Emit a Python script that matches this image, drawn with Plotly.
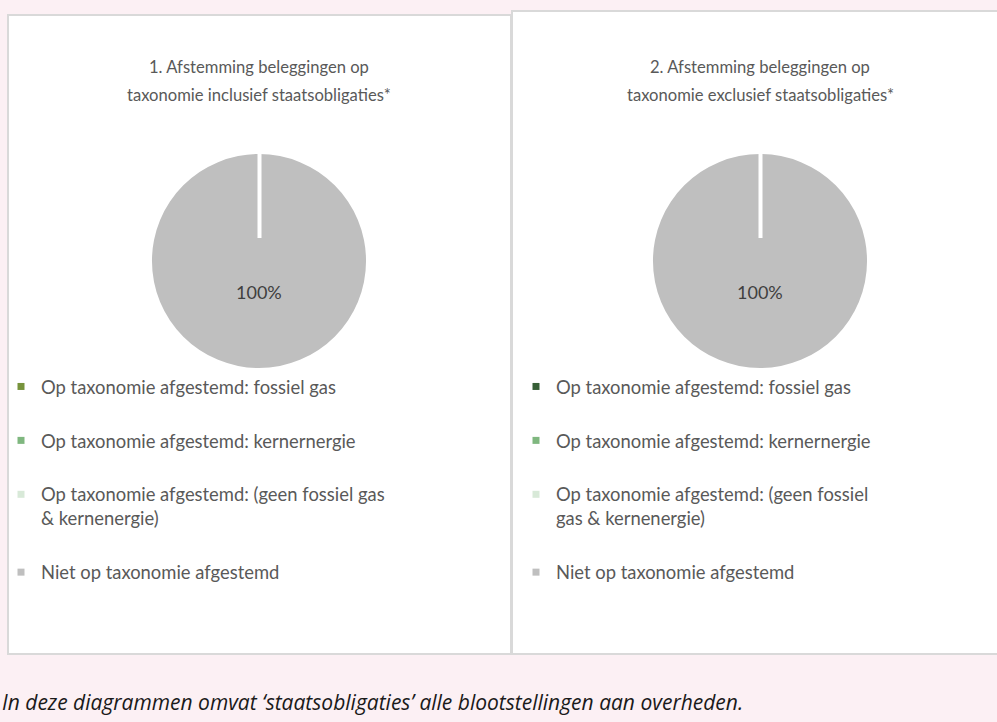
import plotly.graph_objects as go

W, H = 997, 722

# ---- data ----
labels = [
    "Op taxonomie afgestemd: fossiel gas",
    "Op taxonomie afgestemd: kernernergie",
    "Op taxonomie afgestemd: (geen fossiel gas & kernenergie)",
    "Niet op taxonomie afgestemd",
]
values_incl = [0, 0, 0, 100]
values_excl = [0, 0, 0, 100]
colors_incl = ["#77933c", "#7fb77f", "#d8e9d8", "#bfbfbf"]
colors_excl = ["#375f37", "#7fb77f", "#d8e9d8", "#bfbfbf"]
titles = [
    ["1. Afstemming beleggingen op", "taxonomie inclusief staatsobligaties*"],
    ["2. Afstemming beleggingen op", "taxonomie exclusief staatsobligaties*"],
]
wrap_widths = [41, 37]
footnote = "In deze diagrammen omvat ‘staatsobligaties’ alle blootstellingen aan overheden."

FONT = "Lato"
GREY = "#595959"


def px(x):
    return x / W


def py(y):
    return 1 - y / H


def wrap(text, width):
    words = text.split(" ")
    lines, cur = [], ""
    for w in words:
        if cur and len(cur) + 1 + len(w) > width:
            lines.append(cur)
            cur = w
        else:
            cur = (cur + " " + w) if cur else w
    lines.append(cur)
    return "<br>".join(lines)


fig = go.Figure()

panels = [
    dict(x0=8, x1=511, y0=15, y1=654, cx=259, vals=values_incl, cols=colors_incl, legend="legend", lx=1),
    dict(x0=512, x1=1010, y0=11, y1=654, cx=760, vals=values_excl, cols=colors_excl, legend="legend2", lx=516),
]
CY, R = 261, 107

shapes = []
annotations = []
for i, p in enumerate(panels):
    shapes.append(dict(type="rect", xref="paper", yref="paper",
                       x0=px(p["x0"]), x1=px(p["x1"]), y0=py(p["y1"]), y1=py(p["y0"]),
                       fillcolor="white", line=dict(color="#d9d9d9", width=2), layer="below"))
    fig.add_trace(go.Pie(
        labels=labels, values=p["vals"], sort=False, direction="clockwise", rotation=0,
        marker=dict(colors=p["cols"], line=dict(color="white", width=0)),
        textinfo="none", showlegend=False, hoverinfo="label+percent",
        domain=dict(x=[px(p["cx"] - R), px(p["cx"] + R)], y=[py(CY + R), py(CY - R)]),
    ))
    # white divider at slice start
    shapes.append(dict(type="line", xref="paper", yref="paper",
                       x0=px(p["cx"] + 0.5), x1=px(p["cx"] + 0.5), y0=py(CY - R), y1=py(CY - R + 84),
                       line=dict(color="white", width=4), layer="above"))
    total = sum(p["vals"])
    big = max(range(len(p["vals"])), key=lambda k: p["vals"][k])
    annotations.append(dict(x=px(p["cx"]), y=py(292), xref="paper", yref="paper", showarrow=False,
                            xanchor="center", yanchor="middle",
                            text=f"{100 * p['vals'][big] / total:.0f}%",
                            font=dict(family=FONT, size=18, color="#404040")))
    for j, (t, yy) in enumerate(zip(titles[i], [67, 95])):
        annotations.append(dict(x=px(p["cx"]), y=py(yy), xref="paper", yref="paper", showarrow=False,
                                xanchor="center", yanchor="middle",
                                text=t, font=dict(family=FONT, size=16.6, color=GREY)))
    for k, lab in enumerate(labels):
        fig.add_trace(go.Scatter(
            x=[None], y=[None], mode="markers",
            marker=dict(symbol="square", size=7, color=p["cols"][k]),
            name=wrap(lab, wrap_widths[i]), legend=p["legend"], legendgroup=f"{i}-{k}",
            showlegend=True, hoverinfo="skip",
        ))

annotations.append(dict(x=0, y=py(702), xref="paper", yref="paper", xanchor="left", yanchor="middle",
                        showarrow=False,
                        text=f"<i>{footnote}</i>", font=dict(family="Open Sans", size=21, color="#1a1a1a")))

legend_common = dict(font=dict(family=FONT, size=18.4, color=GREY), bgcolor="rgba(0,0,0,0)",
                     tracegroupgap=27, valign="top", xanchor="left", yanchor="top",
                     traceorder="grouped", itemclick=False)

fig.update_layout(
    width=W, height=H,
    margin=dict(l=0, r=0, t=0, b=0),
    paper_bgcolor="#fcf0f4", plot_bgcolor="rgba(0,0,0,0)",
    xaxis=dict(visible=False), yaxis=dict(visible=False),
    shapes=shapes, annotations=annotations,
    legend=dict(x=px(panels[0]["lx"]), y=py(368), **legend_common),
    legend2=dict(x=px(panels[1]["lx"]), y=py(368), **legend_common),
)

fig.write_html("out.html", config={"displayModeBar": False},
               post_script="document.body.style.margin='0';")
